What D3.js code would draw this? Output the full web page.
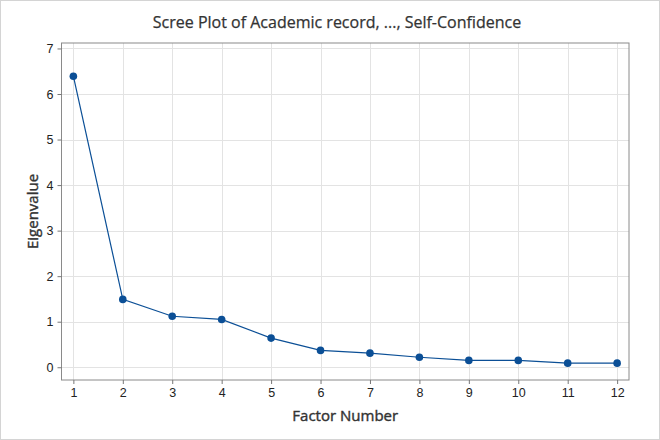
<!DOCTYPE html>
<html>
<head>
<meta charset="utf-8">
<script src="https://cdn.jsdelivr.net/npm/d3@7"></script>
<style>
  body { margin: 0; background: #fff; }
  svg { display: block; font-family: "Open Sans", "Noto Sans", sans-serif; }
  .grid line { stroke: #e3e3e3; stroke-width: 1; }
  .axis text { fill: #222; font-size: 12.5px; }
  .axis path, .axis line { stroke: #777; }
</style>
</head>
<body>
<div id="chart"></div>
<script>
// data
const factors = [1, 2, 3, 4, 5, 6, 7, 8, 9, 10, 11, 12];
const eigenvalues = [6.39, 1.49, 1.12, 1.05, 0.64, 0.37, 0.31, 0.22, 0.15, 0.15, 0.09, 0.09];
const yTicks = [0, 1, 2, 3, 4, 5, 6, 7];

const W = 660, H = 440;
const plot = { left: 61.5, right: 629, top: 43, bottom: 380 };

const svg = d3.select('#chart').append('svg').attr('width', W).attr('height', H);

// outer frame
svg.append('rect').attr('x', 0.5).attr('y', 0.5).attr('width', W - 1).attr('height', H - 1)
   .attr('fill', '#fff').attr('stroke', '#d4d4d4');

const x = d3.scaleLinear().domain([0.76, 12.24]).range([plot.left, plot.right]);
const y = d3.scaleLinear().domain([-0.28, 7.12]).range([plot.bottom, plot.top]);

// gridlines
const grid = svg.append('g').classed('grid', true);
grid.selectAll('.gx').data(factors).enter().append('line')
    .attr('x1', d => Math.round(x(d)) + 0.5).attr('x2', d => Math.round(x(d)) + 0.5)
    .attr('y1', plot.top).attr('y2', plot.bottom);
grid.selectAll('.gy').data(yTicks).enter().append('line')
    .attr('y1', d => Math.round(y(d)) + 0.5).attr('y2', d => Math.round(y(d)) + 0.5)
    .attr('x1', plot.left).attr('x2', plot.right);

// plot frame
svg.append('rect').attr('x', plot.left).attr('y', plot.top)
   .attr('width', plot.right - plot.left).attr('height', plot.bottom - plot.top)
   .attr('fill', 'none').attr('stroke', '#8a8a8a');

// axes
const xAxis = svg.append('g').classed('axis', true)
   .attr('transform', 'translate(0,' + plot.bottom + ')')
   .call(d3.axisBottom(x).tickValues(factors).tickSize(4).tickPadding(4).tickSizeOuter(0));
const yAxis = svg.append('g').classed('axis', true)
   .attr('transform', 'translate(' + plot.left + ',0)')
   .call(d3.axisLeft(y).tickValues(yTicks).tickSize(4).tickPadding(4).tickSizeOuter(0));
xAxis.select('.domain').remove();
yAxis.select('.domain').remove();

// line + points
const pts = factors.map((f, i) => ({ f: f, v: eigenvalues[i] }));
svg.append('path').datum(pts)
   .attr('fill', 'none').attr('stroke', '#0b4f96').attr('stroke-width', 1.2)
   .attr('d', d3.line().x(d => x(d.f)).y(d => y(d.v)));
svg.selectAll('.pt').data(pts).enter().append('circle')
   .attr('cx', d => x(d.f)).attr('cy', d => y(d.v)).attr('r', 3.8)
   .attr('fill', '#0b4f96');

// titles (a thin stroke gives the semi-bold look of the original font)
svg.append('text').attr('x', 337).attr('y', 28).attr('text-anchor', 'middle')
   .attr('font-size', 16).attr('fill', '#333').attr('stroke', '#333').attr('stroke-width', 0.25)
   .text('Scree Plot of Academic record, ..., Self-Confidence');
svg.append('text').attr('x', (plot.left + plot.right) / 2).attr('y', 421).attr('text-anchor', 'middle')
   .attr('font-size', 15).attr('fill', '#333').attr('stroke', '#333').attr('stroke-width', 0.4)
   .text('Factor Number');
svg.append('text').attr('transform', 'translate(38,' + ((plot.top + plot.bottom) / 2) + ') rotate(-90)')
   .attr('text-anchor', 'middle').attr('font-size', 15).attr('fill', '#333').attr('stroke', '#333').attr('stroke-width', 0.4)
   .text('Eigenvalue');
</script>
</body>
</html>
